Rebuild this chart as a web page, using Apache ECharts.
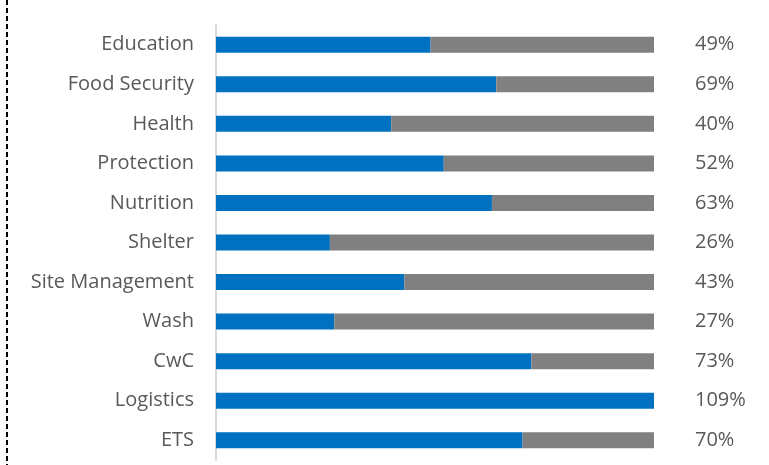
<!DOCTYPE html>
<html>
<head>
<meta charset="utf-8">
<script src="https://cdn.jsdelivr.net/npm/echarts@6/dist/echarts.min.js"></script>
<style>html,body{margin:0;padding:0;background:#fff;}#c{width:769px;height:465px;}</style>
</head>
<body>
<div id="c"></div>
<script>
var categories = ['Education','Food Security','Health','Protection','Nutrition','Shelter','Site Management','Wash','CwC','Logistics','ETS'];
var achieved = [49, 64, 40, 52, 63, 26, 43, 27, 72, 100, 70];
var remaining = [51, 36, 60, 48, 37, 74, 57, 73, 28, 0, 30];
var pctLabels = ['49%','69%','40%','52%','63%','26%','43%','27%','73%','109%','70%'];

var chart = echarts.init(document.getElementById('c'));
var font = '"Open Sans", sans-serif';
chart.setOption({
  animation: false,
  grid: {left: 216, right: 115, top: 25, height: 435},
  xAxis: {type: 'value', min: 0, max: 100, show: false},
  yAxis: [{
    type: 'category', data: categories, inverse: true, offset: 1,
    axisLine: {show: true, lineStyle: {color: '#d9d9d9', width: 2}},
    axisTick: {show: false},
    axisLabel: {color: '#595959', fontSize: 20, fontFamily: font, margin: 21, padding: [2, 0, 0, 0]}
  }, {
    type: 'category', data: pctLabels, inverse: true, position: 'right',
    axisLine: {show: false}, axisTick: {show: false},
    axisLabel: {color: '#595959', fontSize: 20, fontFamily: font, margin: 41, align: 'left', padding: [2, 0, 0, 0]}
  }],
  series: [{
    type: 'bar', stack: 's', data: achieved, barWidth: 16,
    itemStyle: {color: '#0070c0'}
  }, {
    type: 'bar', stack: 's', data: remaining, barWidth: 16,
    itemStyle: {color: '#808080'}
  }],
  graphic: [{
    type: 'line', shape: {x1: 7, y1: 0, x2: 7, y2: 465},
    style: {stroke: '#000', lineWidth: 2, lineDash: [5, 3]}
  }]
});
</script>
</body>
</html>
